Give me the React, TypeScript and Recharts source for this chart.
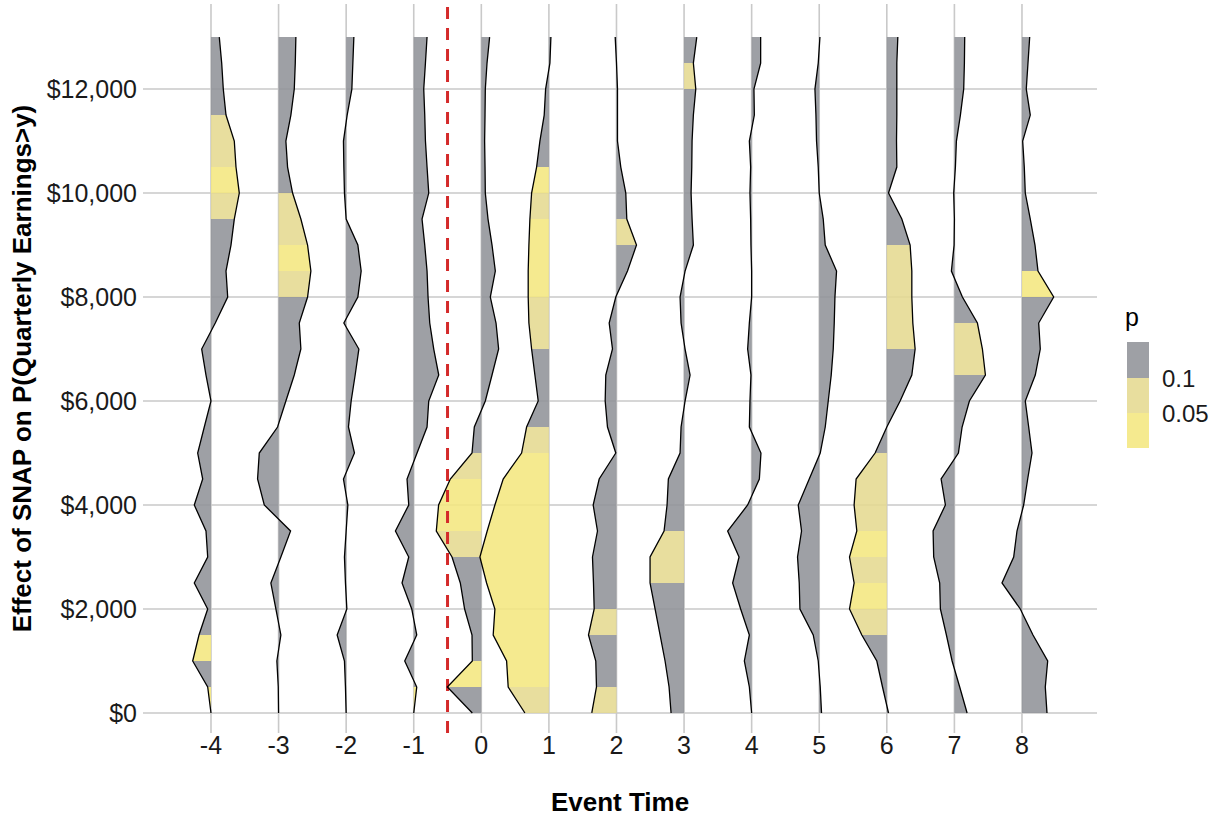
import React from 'react';
import {
  ComposedChart,
  Area,
  Line,
  XAxis,
  YAxis,
  CartesianGrid,
  ReferenceLine,
  Label,
} from 'recharts';

// Event times (quarters relative to SNAP entry)
const eventTimes = [-4, -3, -2, -1, 0, 1, 2, 3, 4, 5, 6, 7, 8];

// Earnings thresholds y at which the effect is estimated
const yLevels = [
  0, 500, 1000, 1500, 2000, 2500, 3000, 3500, 4000, 4500, 5000, 5500, 6000, 6500,
  7000, 7500, 8000, 8500, 9000, 9500, 10000, 10500, 11000, 11500, 12000, 12500, 13000,
];
const yTicks = [0, 2000, 4000, 6000, 8000, 10000, 12000];

// Effect on P(earnings > y), percentage points, from y = $0 upward
const effectTm4 = [0, -0.33, -1.83, -1.2, -0.33, -1.67, -0.33, -0.5, -1.67, -0.83, -1.33, -0.67, 0, -0.5, -0.93, 0.43, 1.67, 1.5, 2.0, 2.33, 2.83, 2.5, 2.33, 1.5, 1.23, 1.07, 0.83];
const effectTm3 = [0, -0.03, -0.17, 0.23, -0.27, -0.77, 0.23, 1.2, -1.43, -2.1, -1.93, -0.1, 0.73, 1.57, 2.23, 2.07, 2.9, 3.23, 2.9, 2.23, 1.4, 0.9, 0.73, 1.23, 1.57, 1.67, 1.73];
const effectTm2 = [0, -0.07, -0.17, -0.9, 0.07, -0.07, -0.17, 0, 0.17, -0.27, 0.83, 0.23, 0.5, 0.9, 1.27, -0.23, 1.17, 1.5, 1.17, 0, -0.17, -0.23, -0.27, 0.1, 0.57, 0.67, 0.77];
const effectTm1 = [0, 0.3, -0.9, 0.3, -0.2, -1.17, -0.5, -1.83, -0.5, -0.67, 0.33, 1.33, 1.5, 2.5, 2.0, 1.6, 1.43, 1.33, 1.1, 0.83, 1.5, 1.33, 1.17, 1.1, 1.0, 1.17, 1.33];
const effectT0 = [-0.9, -3.4, -0.9, -0.93, -1.67, -2.1, -2.93, -4.5, -4.27, -3.1, -0.93, -0.7, 0.4, 1.07, 1.73, 1.47, 0.9, 1.4, 1.07, 0.67, 0.4, 0.37, 0.33, 0.37, 0.4, 0.57, 0.83];
const effectT1 = [-2.4, -4.07, -4.23, -5.57, -5.4, -6.23, -6.9, -6.17, -5.4, -4.57, -2.73, -2.23, -1.07, -1.4, -1.73, -2.0, -2.07, -2.07, -2.0, -1.9, -1.73, -1.23, -0.9, -0.47, -0.33, 0.1, 0.2];
const effectT2 = [-2.47, -2.0, -2.07, -2.8, -2.23, -2.3, -2.4, -1.9, -2.33, -1.73, -0.07, -0.9, -1.13, -1.07, -0.4, -0.73, -0.07, 1.1, 2.0, 1.03, 0.93, 0.43, 0.1, 0.1, 0.1, 0, -0.13];
const effectT3 = [-1.3, -1.5, -1.9, -2.4, -2.9, -3.4, -3.4, -2.0, -1.7, -1.57, -0.4, -0.3, 0.1, 0.6, 0.1, -0.3, -0.4, 0.1, 0.93, 0.8, 0.7, 0.77, 0.8, 0.93, 1.17, 0.93, 1.27];
const effectT4 = [0, -0.23, -0.73, -0.23, -1.1, -1.9, -1.26, -2.4, -0.4, 0.77, 0.93, -0.23, -0.17, -0.07, -0.4, -0.23, 0, 0, -0.07, -0.1, -0.17, -0.1, -0.23, 0.27, 0.23, 0.9, 0.9];
const effectT5 = [0.23, 0.1, -0.1, -0.6, -1.93, -2.0, -2.17, -1.77, -2.1, -1.0, 0.1, 0.6, 0.9, 1.2, 1.4, 1.5, 1.57, 1.73, 0.6, 0.4, 0, -0.1, -0.27, -0.33, -0.43, -0.1, 0.07];
const effectT6 = [0.17, -0.43, -1.0, -2.5, -3.73, -3.27, -3.73, -3.0, -3.27, -3.07, -1.17, 0, 1.33, 2.5, 2.83, 2.6, 2.5, 2.5, 2.33, 1.5, 0.17, 1.0, 0.97, 1.0, 1.0, 1.0, 1.1];
const effectT7 = [1.27, 0.53, -0.23, -0.8, -1.4, -1.47, -2.07, -2.13, -0.9, -1.33, 0.4, 0.77, 1.5, 3.1, 2.8, 2.3, 0.8, -0.3, -0.03, 0, -0.07, 0.1, 0.2, 0.6, 0.93, 1.0, 1.03];
const effectT8 = [2.5, 2.33, 2.57, 1.1, -0.17, -2.0, -0.83, -0.5, 0.17, 0.57, 1.0, 0.67, 0.33, 1.33, 1.83, 1.67, 3.17, 1.6, 1.3, 0.83, 0.33, 0.23, 0.07, 0.83, 0.43, 0.6, 0.77];

// p-value band of each $500 interval, from $0-$500 upward
// 0: p >= 0.1, 1: 0.05 <= p < 0.1, 2: p < 0.05
const pBandTm4 = [2, 0, 2, 0, 0, 0, 0, 0, 0, 0, 0, 0, 0, 0, 0, 0, 0, 0, 0, 1, 2, 1, 1, 0, 0, 0];
const pBandTm3 = [0, 0, 0, 0, 0, 0, 0, 0, 0, 0, 0, 0, 0, 0, 0, 0, 1, 2, 1, 1, 0, 0, 0, 0, 0, 0];
const pBandTm2 = [0, 0, 0, 0, 0, 0, 0, 0, 0, 0, 0, 0, 0, 0, 0, 0, 0, 0, 0, 0, 0, 0, 0, 0, 0, 0];
const pBandTm1 = [2, 0, 0, 0, 0, 0, 0, 0, 0, 0, 0, 0, 0, 0, 0, 0, 0, 0, 0, 0, 0, 0, 0, 0, 0, 0];
const pBandT0 = [0, 2, 0, 0, 0, 0, 1, 2, 2, 1, 0, 0, 0, 0, 0, 0, 0, 0, 0, 0, 0, 0, 0, 0, 0, 0];
const pBandT1 = [1, 2, 2, 2, 2, 2, 2, 2, 2, 2, 1, 0, 0, 0, 1, 1, 2, 2, 2, 1, 2, 0, 0, 0, 0, 0];
const pBandT2 = [1, 0, 0, 1, 0, 0, 0, 0, 0, 0, 0, 0, 0, 0, 0, 0, 0, 0, 1, 0, 0, 0, 0, 0, 0, 0];
const pBandT3 = [0, 0, 0, 0, 0, 1, 1, 0, 0, 0, 0, 0, 0, 0, 0, 0, 0, 0, 0, 0, 0, 0, 0, 0, 1, 0];
const pBandT4 = [0, 0, 0, 0, 0, 0, 0, 0, 0, 0, 0, 0, 0, 0, 0, 0, 0, 0, 0, 0, 0, 0, 0, 0, 0, 0];
const pBandT5 = [0, 0, 0, 0, 0, 0, 0, 0, 0, 0, 0, 0, 0, 0, 0, 0, 0, 0, 0, 0, 0, 0, 0, 0, 0, 0];
const pBandT6 = [0, 0, 0, 1, 2, 1, 2, 1, 1, 1, 0, 0, 0, 0, 1, 1, 1, 1, 0, 0, 0, 0, 0, 0, 0, 0];
const pBandT7 = [0, 0, 0, 0, 0, 0, 0, 0, 0, 0, 0, 0, 0, 1, 1, 0, 0, 0, 0, 0, 0, 0, 0, 0, 0, 0];
const pBandT8 = [0, 0, 0, 0, 0, 0, 0, 0, 0, 0, 0, 0, 0, 0, 0, 0, 2, 0, 0, 0, 0, 0, 0, 0, 0, 0];

const legendLabels = ['0.1', '0.05'];

const effects = [effectTm4, effectTm3, effectTm2, effectTm1, effectT0, effectT1, effectT2, effectT3, effectT4, effectT5, effectT6, effectT7, effectT8];
const pBands = [pBandTm4, pBandTm3, pBandTm2, pBandTm1, pBandT0, pBandT1, pBandT2, pBandT3, pBandT4, pBandT5, pBandT6, pBandT7, pBandT8];

// horizontal size of one percentage point, in event-time units
const RIDGE_SCALE = 0.148;
const BAND_COLORS = ['#919398', '#e5d991', '#f4e77f'];
const FILL_OPACITY = 0.88;
const FONT = '"Liberation Sans", Arial, Helvetica, sans-serif';

type Run = { key: string; band: number };

// one row per earnings threshold, holding each ridge's outline and band ranges
const rows: Record<string, any>[] = yLevels.map((y, i) => {
  const row: Record<string, any> = { y };
  effects.forEach((eff, r) => {
    row[`ridge${r}`] = eventTimes[r] + eff[i] * RIDGE_SCALE;
  });
  return row;
});

const runs: Run[] = [];
pBands.forEach((bands, r) => {
  let start = 0;
  for (let j = 1; j <= bands.length; j++) {
    if (j === bands.length || bands[j] !== bands[start]) {
      const key = `band${r}_${start}`;
      for (let i = start; i <= j; i++) {
        rows[i][key] = [eventTimes[r], eventTimes[r] + effects[r][i] * RIDGE_SCALE];
      }
      runs.push({ key, band: bands[start] });
      start = j;
    }
  }
});

const money = (v: number) => `$${v.toLocaleString('en-US')}`;

const YTitle = (props: any) => {
  const vb = props.viewBox || { x: 0, y: 0, width: 0, height: 0 };
  const cx = vb.x + 22;
  const cy = vb.y + vb.height / 2;
  return (
    <text
      x={cx}
      y={cy}
      transform={`rotate(-90, ${cx}, ${cy})`}
      textAnchor="middle"
      dominantBaseline="central"
      fontFamily={FONT}
      fontWeight="bold"
      fontSize={26}
      fill="#000"
    >
      Effect of SNAP on P(Quarterly Earnings&gt;y)
    </text>
  );
};

const XTitle = (props: any) => {
  const vb = props.viewBox || { x: 0, y: 0, width: 0, height: 0 };
  return (
    <text
      x={vb.x + vb.width / 2}
      y={vb.y + vb.height - 5}
      textAnchor="middle"
      fontFamily={FONT}
      fontWeight="bold"
      fontSize={26}
      fill="#000"
    >
      Event Time
    </text>
  );
};

const PLegend = () => (
  <svg
    width={125}
    height={160}
    style={{ position: 'absolute', left: 1100, top: 300 }}
  >
    <text x={25} y={26} fontFamily={FONT} fontSize={25} fill="#000">p</text>
    <rect x={27} y={42} width={22} height={36} fill={BAND_COLORS[0]} fillOpacity={FILL_OPACITY} />
    <rect x={27} y={78} width={22} height={35} fill={BAND_COLORS[1]} fillOpacity={FILL_OPACITY} />
    <rect x={27} y={113} width={22} height={35} fill={BAND_COLORS[2]} fillOpacity={FILL_OPACITY} />
    <text x={62} y={87} fontFamily={FONT} fontSize={24} fill="#1a1a1a">{legendLabels[0]}</text>
    <text x={62} y={122} fontFamily={FONT} fontSize={24} fill="#1a1a1a">{legendLabels[1]}</text>
  </svg>
);

export default function App() {
  return (
    <div
      style={{
        position: 'absolute',
        left: 0,
        top: 0,
        width: 1225,
        height: 816,
        background: '#fff',
        fontFamily: FONT,
      }}
    >
      <ComposedChart
        width={1225}
        height={816}
        data={rows}
        layout="vertical"
        margin={{ top: 4, right: 128, bottom: 0, left: 0 }}
      >
        <CartesianGrid stroke="#c9c9c9" strokeWidth={1.6} syncWithTicks />
        <XAxis
          type="number"
          domain={[-5.006, 9.11]}
          allowDataOverflow
          ticks={eventTimes}
          interval={0}
          height={83}
          tickLine={false}
          axisLine={false}
          tickSize={1}
          tickMargin={2}
          tick={{ fontSize: 25, fill: '#1a1a1a', fontFamily: FONT }}
        >
          <Label content={<XTitle />} />
        </XAxis>
        <YAxis
          type="number"
          dataKey="y"
          domain={[-385, 13636]}
          allowDataOverflow
          reversed
          ticks={yTicks}
          interval={0}
          width={143}
          tickFormatter={money}
          tickLine={false}
          axisLine={false}
          tickSize={4}
          tickMargin={2}
          tick={{ fontSize: 25, fill: '#1a1a1a', fontFamily: FONT }}
        >
          <Label content={<YTitle />} />
        </YAxis>
        <ReferenceLine
          x={-0.5}
          stroke="#d42a2a"
          strokeWidth={3}
          strokeDasharray="12 9"
        />
        {runs.map((run) => (
          <Area
            key={run.key}
            dataKey={run.key}
            type="linear"
            fill={BAND_COLORS[run.band]}
            fillOpacity={FILL_OPACITY}
            stroke="none"
            dot={false}
            activeDot={false}
            isAnimationActive={false}
          />
        ))}
        {eventTimes.map((t, r) => (
          <Line
            key={`ridge${r}`}
            dataKey={`ridge${r}`}
            type="linear"
            stroke="#000"
            strokeWidth={1.3}
            dot={false}
            activeDot={false}
            isAnimationActive={false}
          />
        ))}
      </ComposedChart>
      <PLegend />
    </div>
  );
}
